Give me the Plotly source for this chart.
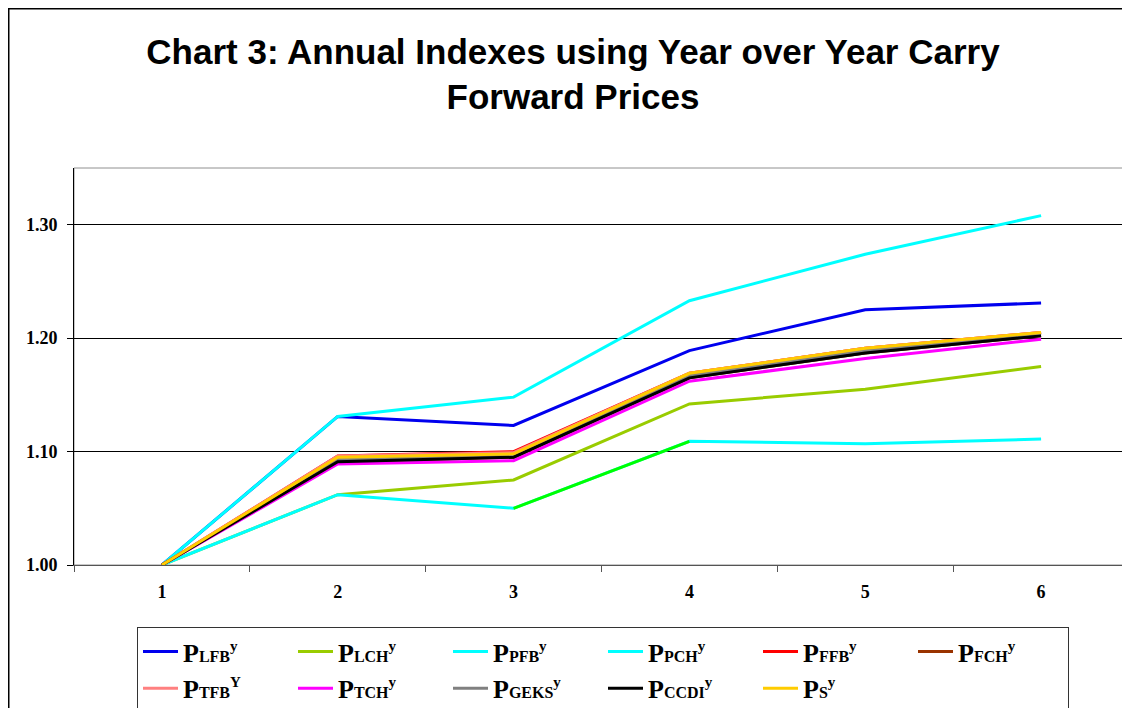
import plotly.graph_objects as go

years = ["1", "2", "3", "4", "5", "6"]

p_lfb = [1.000, 1.131, 1.123, 1.189, 1.225, 1.231]
p_lch = [1.000, 1.062, 1.075, 1.142, 1.155, 1.175]
p_pfb = [1.000, 1.131, 1.148, 1.233, 1.274, 1.308]
p_pch = [1.000, 1.062, 1.050, 1.109, 1.107, 1.111]
p_ffb = [1.000, 1.096, 1.100, 1.169, 1.191, 1.205]
p_fch = [1.000, 1.091, 1.095, 1.165, 1.187, 1.202]
p_tfb = [1.000, 1.096, 1.099, 1.169, 1.191, 1.205]
p_tch = [1.000, 1.089, 1.092, 1.162, 1.182, 1.199]
p_geks = [1.000, 1.093, 1.096, 1.167, 1.189, 1.204]
p_ccdi = [1.000, 1.091, 1.095, 1.165, 1.187, 1.202]
p_s = [1.000, 1.095, 1.098, 1.169, 1.191, 1.205]

ytick_vals = [1.00, 1.10, 1.20, 1.30]


def label(sub, sup="y"):
    return (f"<b>P<span style='font-size:16px'>{sub}</span>"
            f"<sup><span style='font-size:15px'>{sup}</span></sup></b>")


series = [
    (label("LFB"), p_lfb, "#0000EE"),
    (label("LCH"), p_lch, "#99CC00"),
    (label("PFB"), p_pfb, "#00FFFF"),
    (label("PCH"), p_pch, "#00FFFF"),
    (label("FFB"), p_ffb, "#FF0000"),
    (label("FCH"), p_fch, "#993300"),
    (label("TFB", "Y"), p_tfb, "#FF8080"),
    (label("TCH"), p_tch, "#FF00FF"),
    (label("GEKS"), p_geks, "#808080"),
    (label("CCDI"), p_ccdi, "#000000"),
    (label("S"), p_s, "#FFCC00"),
]

fig = go.Figure()
for name, vals, color in series:
    fig.add_trace(go.Scatter(x=years, y=vals, mode="lines", name=name,
                             line=dict(color=color, width=3)))
    if vals is p_pch:
        # the year 3 -> 4 segment of this series is drawn in green
        seg = [v if i in (2, 3) else None for i, v in enumerate(vals)]
        fig.add_trace(go.Scatter(x=years, y=seg, mode="lines", showlegend=False,
                                 line=dict(color="#00FF00", width=3)))

tick_font = dict(family="Liberation Serif", size=18, color="black", weight="bold")

# the page adds an 8px offset, so positions below are in figure pixels
L, R, T, B = 66, 1121, 160, 557
W, H = R - L, B - T

fig.update_layout(
    width=1130, height=708,
    margin=dict(l=L, r=1130 - R, t=T, b=708 - B, autoexpand=False),
    paper_bgcolor="white", plot_bgcolor="white",
    title=dict(text="<b>Chart 3: Annual Indexes using Year over Year Carry<br>Forward Prices</b>",
               x=0.5, xanchor="center", y=1 - 55.5 / 708, yanchor="middle",
               font=dict(family="Liberation Sans", size=35, color="black")),
    legend=dict(orientation="h", x=(129 - L) / W, xanchor="left",
                y=(B - 619) / H, yanchor="top",
                bgcolor="white", bordercolor="#333333", borderwidth=1,
                font=dict(family="Liberation Serif", size=26, color="black"),
                entrywidth=105, entrywidthmode="pixels", itemwidth=35,
                traceorder="normal"),
    showlegend=True,
)

fig.update_xaxes(type="category", range=[-0.5, 5.5], tickson="boundaries",
                 ticks="outside", ticklen=6, tickcolor="#555555",
                 showline=True, linecolor="#555555", linewidth=1,
                 showgrid=False, tickfont=tick_font, ticklabelstandoff=10)
fig.update_yaxes(range=[1.0, 1.35], tickvals=ytick_vals, tickformat=".2f",
                 ticks="outside", ticklen=6, tickcolor="black",
                 showline=True, linecolor="black", linewidth=1,
                 showgrid=True, gridcolor="black", gridwidth=1,
                 zeroline=False, tickfont=tick_font, ticklabelstandoff=6)

# plot area border and outer chart border
fig.add_shape(type="rect", xref="paper", yref="paper", x0=0, x1=1, y0=0, y1=1,
              line=dict(color="#909090", width=1), layer="below")
fig.add_shape(type="rect", xref="paper", yref="paper",
              x0=(0.75 - L) / W, x1=(1129 - L) / W,
              y0=(B - 707) / H, y1=(B - 0.75) / H,
              line=dict(color="black", width=1.5))

fig.write_html("out.html")
